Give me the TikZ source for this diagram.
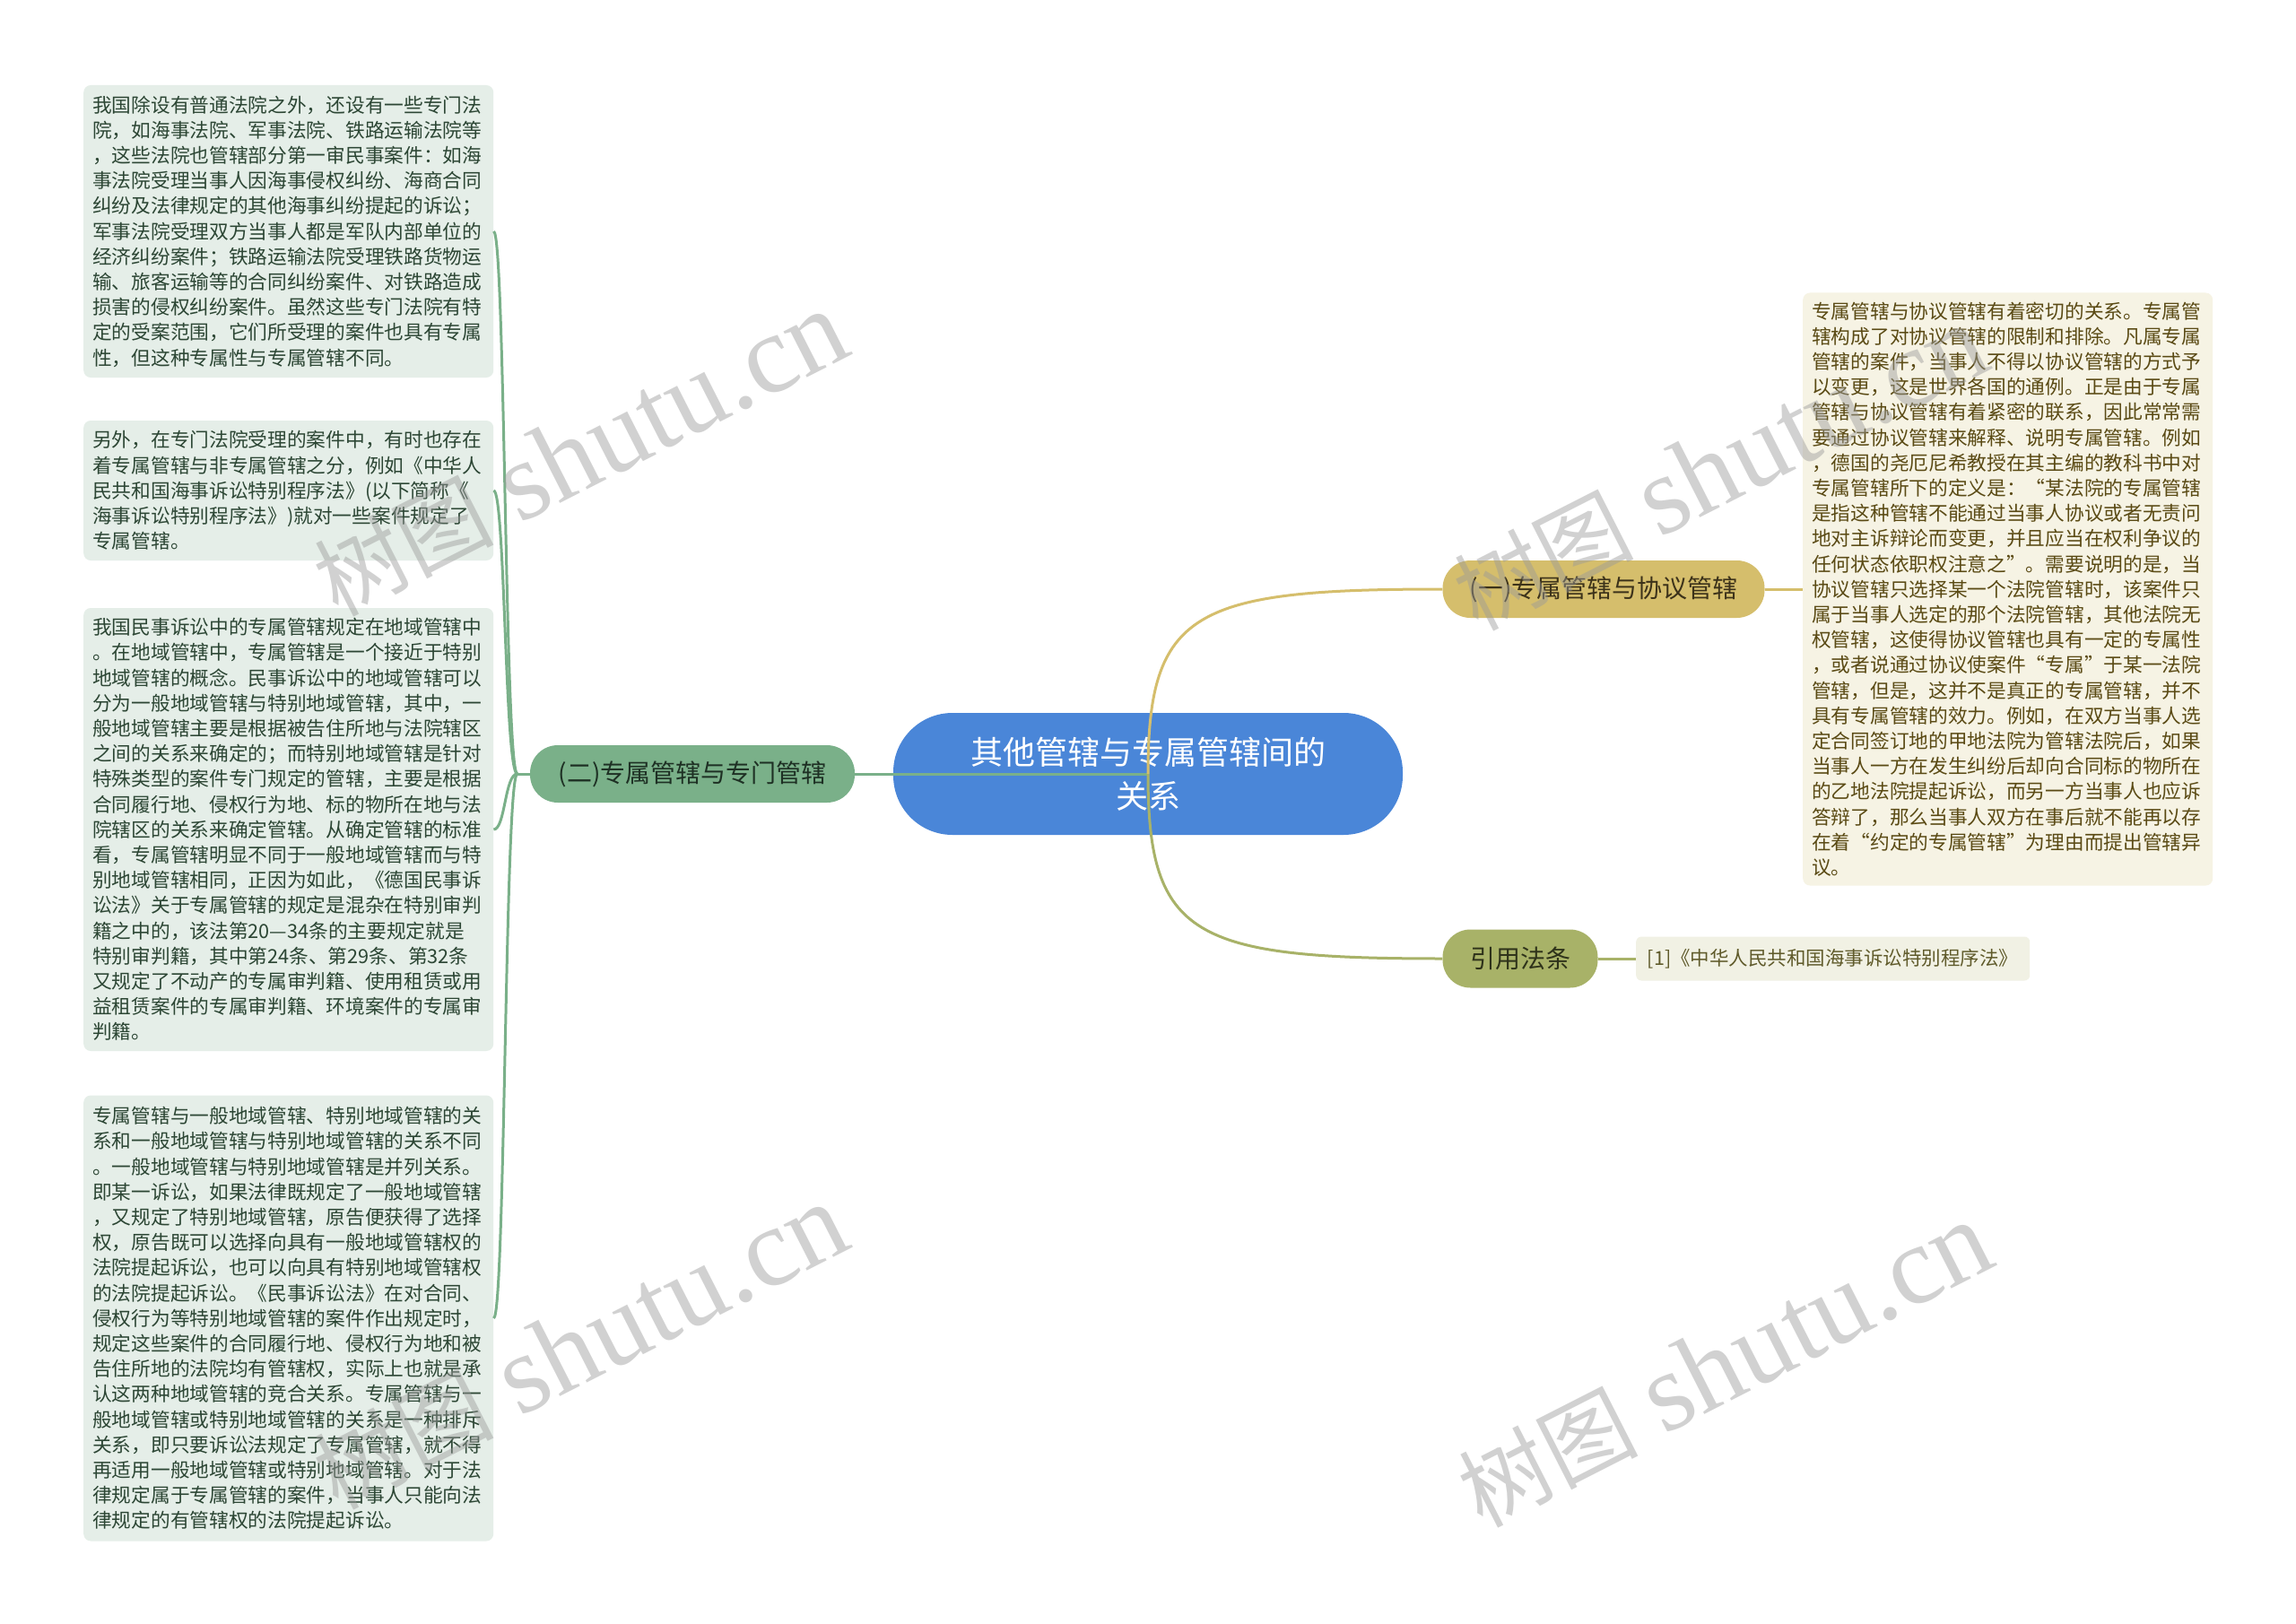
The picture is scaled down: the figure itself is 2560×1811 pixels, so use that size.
\documentclass[tikz,border=0pt]{standalone}
\usepackage{fontspec}
\setmainfont{Noto Sans CJK SC}
\newfontfamily\wmlatin{Liberation Serif}
\definecolor{rootblue}{HTML}{4A86D8}
\definecolor{lgreen}{HTML}{7AB089}
\definecolor{lgreenbox}{HTML}{E5EEE8}
\definecolor{lgreentext}{HTML}{2C4634}
\definecolor{lnodetext}{HTML}{1E3024}
\definecolor{gold}{HTML}{D5BE6C}
\definecolor{goldbox}{HTML}{F6F3E4}
\definecolor{goldtext}{HTML}{5A4A14}
\definecolor{goldnodetext}{HTML}{3C321A}
\definecolor{olive}{HTML}{A8B268}
\definecolor{olivebox}{HTML}{F1F1E4}
\definecolor{olivetext}{HTML}{5F5A2A}
\definecolor{olivenodetext}{HTML}{2E321A}
\definecolor{wmgray}{HTML}{9A9A9A}
\begin{document}
\begin{tikzpicture}[x=1pt,y=-1pt,
  pill/.style={inner sep=0pt, align=center, font={\fontsize{28}{36}\selectfont}},
  leaf/.style={rounded corners=8pt, inner xsep=10pt, inner ysep=6pt, text width=437pt, align=left, font={\fontsize{21.7}{28.2}\selectfont}, anchor=west},
  lc/.style={draw=lgreen, line width=3pt},
  gc/.style={draw=gold, line width=3pt},
  oc/.style={draw=olive, line width=3pt},
  wm/.style={text=wmgray, text opacity=0.45, inner sep=0pt}]
\fill[white] (0,0) rectangle (2560,1811);
\useasboundingbox (0,0) rectangle (2560,1811);

% root
\node[pill, fill=rootblue, rounded corners=66pt, minimum width=568pt, minimum height=136pt, text=white, font={\fontsize{36}{49}\selectfont}] (root) at (1280,863) {其他管辖与专属管辖间的\\关系};

% left branch
\node[pill, fill=lgreen, rounded corners=31pt, minimum width=362pt, minimum height=64pt, text=lnodetext] (L) at (772,863) {(二)专属管辖与专门管辖};

\node[leaf, fill=lgreenbox, text=lgreentext, minimum height=326pt] (b1) at (93,258) {我国除设有普通法院之外，还设有一些专门法\\院，如海事法院、军事法院、铁路运输法院等\\，这些法院也管辖部分第一审民事案件：如海\\事法院受理当事人因海事侵权纠纷、海商合同\\纠纷及法律规定的其他海事纠纷提起的诉讼；\\军事法院受理双方当事人都是军队内部单位的\\经济纠纷案件；铁路运输法院受理铁路货物运\\输、旅客运输等的合同纠纷案件、对铁路造成\\损害的侵权纠纷案件。虽然这些专门法院有特\\定的受案范围，它们所受理的案件也具有专属\\性，但这种专属性与专属管辖不同。};

\node[leaf, fill=lgreenbox, text=lgreentext, minimum height=156pt] (b2) at (93,547) {另外，在专门法院受理的案件中，有时也存在\\着专属管辖与非专属管辖之分，例如《中华人\\民共和国海事诉讼特别程序法》(以下简称《\\海事诉讼特别程序法》)就对一些案件规定了\\专属管辖。};

\node[leaf, fill=lgreenbox, text=lgreentext, minimum height=494pt] (b3) at (93,925) {我国民事诉讼中的专属管辖规定在地域管辖中\\。在地域管辖中，专属管辖是一个接近于特别\\地域管辖的概念。民事诉讼中的地域管辖可以\\分为一般地域管辖与特别地域管辖，其中，一\\般地域管辖主要是根据被告住所地与法院辖区\\之间的关系来确定的；而特别地域管辖是针对\\特殊类型的案件专门规定的管辖，主要是根据\\合同履行地、侵权行为地、标的物所在地与法\\院辖区的关系来确定管辖。从确定管辖的标准\\看，专属管辖明显不同于一般地域管辖而与特\\别地域管辖相同，正因为如此，《德国民事诉\\讼法》关于专属管辖的规定是混杂在特别审判\\籍之中的，该法第20—34条的主要规定就是\\特别审判籍，其中第24条、第29条、第32条\\又规定了不动产的专属审判籍、使用租赁或用\\益租赁案件的专属审判籍、环境案件的专属审\\判籍。};

\node[leaf, fill=lgreenbox, text=lgreentext, minimum height=497pt] (b4) at (93,1470) {专属管辖与一般地域管辖、特别地域管辖的关\\系和一般地域管辖与特别地域管辖的关系不同\\。一般地域管辖与特别地域管辖是并列关系。\\即某一诉讼，如果法律既规定了一般地域管辖\\，又规定了特别地域管辖，原告便获得了选择\\权，原告既可以选择向具有一般地域管辖权的\\法院提起诉讼，也可以向具有特别地域管辖权\\的法院提起诉讼。《民事诉讼法》在对合同、\\侵权行为等特别地域管辖的案件作出规定时，\\规定这些案件的合同履行地、侵权行为地和被\\告住所地的法院均有管辖权，实际上也就是承\\认这两种地域管辖的竞合关系。专属管辖与一\\般地域管辖或特别地域管辖的关系是一种排斥\\关系，即只要诉讼法规定了专属管辖，就不得\\再适用一般地域管辖或特别地域管辖。对于法\\律规定属于专属管辖的案件，当事人只能向法\\律规定的有管辖权的法院提起诉讼。};

% right branches
\node[pill, fill=gold, rounded corners=31pt, minimum width=359pt, minimum height=64pt, text=goldnodetext] (R1) at (1788,657) {(一)专属管辖与协议管辖};

\node[leaf, fill=goldbox, text=goldtext, minimum height=661pt] (rb) at (2010,657) {专属管辖与协议管辖有着密切的关系。专属管\\辖构成了对协议管辖的限制和排除。凡属专属\\管辖的案件，当事人不得以协议管辖的方式予\\以变更，这是世界各国的通例。正是由于专属\\管辖与协议管辖有着紧密的联系，因此常常需\\要通过协议管辖来解释、说明专属管辖。例如\\，德国的尧厄尼希教授在其主编的教科书中对\\专属管辖所下的定义是：“某法院的专属管辖\\是指这种管辖不能通过当事人协议或者无责问\\地对主诉辩论而变更，并且应当在权利争议的\\任何状态依职权注意之”。需要说明的是，当\\协议管辖只选择某一个法院管辖时，该案件只\\属于当事人选定的那个法院管辖，其他法院无\\权管辖，这使得协议管辖也具有一定的专属性\\，或者说通过协议使案件“专属”于某一法院\\管辖，但是，这并不是真正的专属管辖，并不\\具有专属管辖的效力。例如，在双方当事人选\\定合同签订地的甲地法院为管辖法院后，如果\\当事人一方在发生纠纷后却向合同标的物所在\\的乙地法院提起诉讼，而另一方当事人也应诉\\答辩了，那么当事人双方在事后就不能再以存\\在着“约定的专属管辖”为理由而提出管辖异\\议。};

\node[pill, fill=olive, rounded corners=31pt, minimum width=173pt, minimum height=65pt, text=olivenodetext] (R3) at (1695,1069) {引用法条};

\node[fill=olivebox, rounded corners=6pt, minimum width=439pt, minimum height=49pt, inner xsep=9pt, anchor=west, text=olivetext, font={\fontsize{21.5}{28}\selectfont}] (ref) at (1824,1069) {[1]《中华人民共和国海事诉讼特别程序法》};

% connectors
\draw[lc] (root.center) -- (L.east);
\coordinate (Lj) at ([xshift=-14pt]L.west);
\draw[lc] (L.west) -- (Lj);
\foreach \b in {b1,b2,b3,b4}{
  \draw[lc] (Lj) .. controls +(-14,0) and +(13,0) .. (\b.east);
}
\draw[gc] (root.center) .. controls +(0,-182) and +(-278,0) .. (R1.west);
\draw[gc] (R1.east) -- (rb.west);
\draw[oc] (root.center) .. controls +(0,182) and +(-278,0) .. (R3.west);
\draw[oc] (R3.east) -- (ref.west);

% watermarks
\foreach \p in {(647,506),(1918,522),(647,1502),(1923,1522)}{
  \node[wm, rotate=27] at \p {{\fontsize{100}{110}\selectfont 树图}\hspace{28pt}{\wmlatin\fontsize{125}{130}\selectfont shutu.cn}};
}
\end{tikzpicture}
\end{document}
